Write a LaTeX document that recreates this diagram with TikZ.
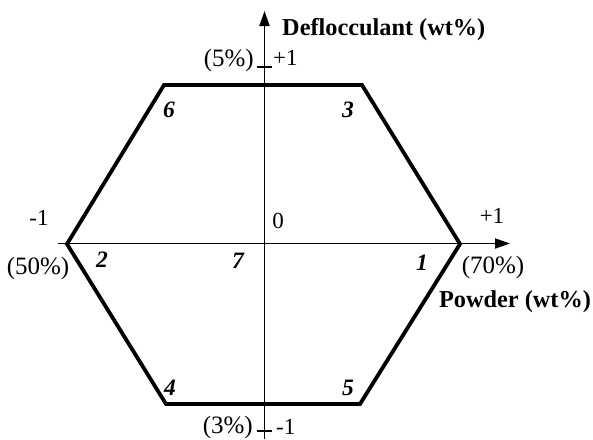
\documentclass[tikz,border=0pt]{standalone}
\usepackage{fontspec}
\setmainfont{Liberation Serif}
\usetikzlibrary{arrows.meta}
\tikzset{
  hexline/.style={line width=3.8pt, line join=miter},
  axisline/.style={line width=1.9pt, -{Triangle[length=15pt,width=10pt]}},
  tick/.style={line width=1.9pt},
  lab/.style={font=\fontsize{25}{27}\selectfont, inner sep=0pt},
  slab/.style={font=\fontsize{23}{25}\selectfont, inner sep=0pt},
  blab/.style={font=\fontsize{24.3}{26}\selectfont\bfseries, inner sep=0pt},
  vlab/.style={font=\fontsize{23.5}{25}\selectfont\bfseries\itshape, inner sep=0pt}
}
\begin{document}
\begin{tikzpicture}[x=1pt,y=-1pt]
\useasboundingbox (0,0) rectangle (593,439);
% axes
\coordinate (xs) at (58,243.5);
\coordinate (xe) at (510,243.5);
\coordinate (ys) at (264.5,439);
\coordinate (ye) at (264.5,11);
\draw[axisline] (xs) -- (xe);
\draw[axisline] (ys) -- (ye);
% ticks
\coordinate (t1a) at (257,67); \coordinate (t1b) at (272,67);
\coordinate (t2a) at (257,431); \coordinate (t2b) at (272,431);
\draw[tick] (t1a) -- (t1b);
\draw[tick] (t2a) -- (t2b);
% hexagon
\coordinate (v1) at (460,244);
\coordinate (v3) at (362,85);
\coordinate (v6) at (164,85);
\coordinate (v2) at (67,244);
\coordinate (v4) at (166,404);
\coordinate (v5) at (360,404);
\draw[hexline] (v1) -- (v3) -- (v6) -- (v2) -- (v4) -- (v5) -- cycle;
% labels
\node[blab, anchor=base west] (dl) at (282,35) {Deflocculant (wt\%)};
\node[lab, anchor=base east] (p5) at (254,66) {(5\%)};
\node[slab, anchor=base west] (pp1) at (273,65) {+1};
\node[lab, anchor=base east] (p3) at (253,433) {(3\%)};
\node[slab, anchor=base west] (pm1) at (276,434) {-1};
\node[slab, anchor=base] (lm1) at (39,225) {-1};
\node[lab, anchor=base] (l50) at (38,274) {(50\%)};
\node[slab, anchor=base] (r1) at (492,223) {+1};
\node[lab, anchor=base] (r70) at (493,273) {(70\%)};
\node[blab, anchor=base] (pw) at (515,307) {Powder (wt\%)};
\node[slab, anchor=base] (zero) at (278,228) {0};
\node[vlab, anchor=base] (n1) at (422,270) {1};
\node[vlab, anchor=base] (n2) at (102,267) {2};
\node[vlab, anchor=base] (n3) at (348,117) {3};
\node[vlab, anchor=base] (n4) at (170,395) {4};
\node[vlab, anchor=base] (n5) at (348,395) {5};
\node[vlab, anchor=base] (n6) at (169,117) {6};
\node[vlab, anchor=base] (n7) at (238,268) {7};
\end{tikzpicture}
\end{document}
